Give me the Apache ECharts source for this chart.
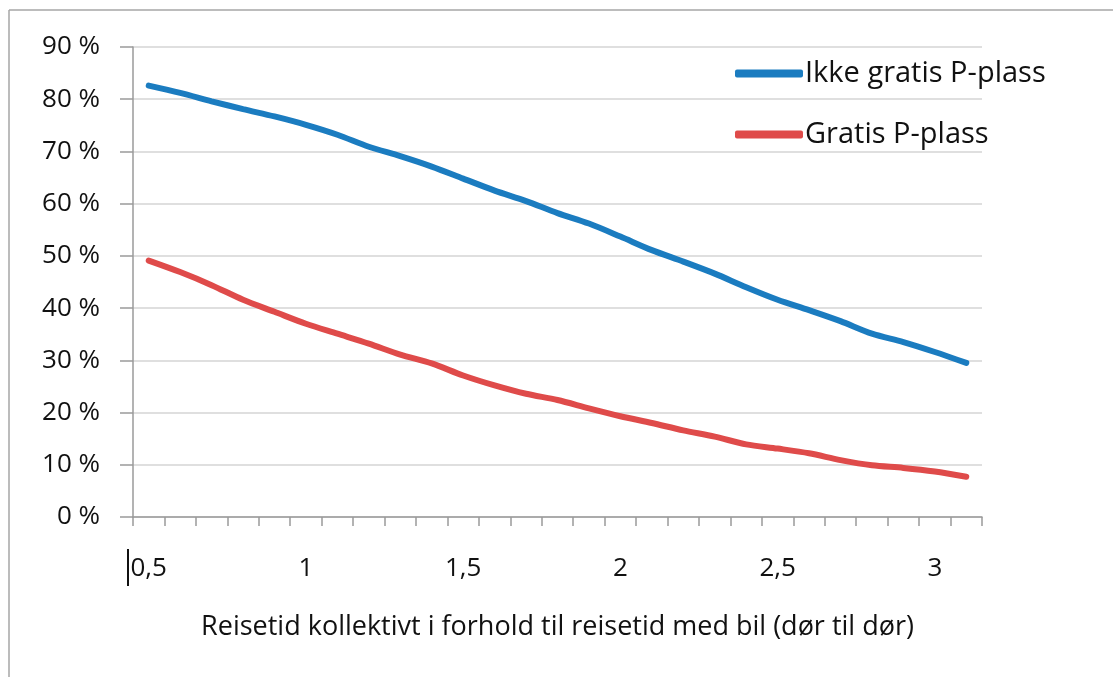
<!DOCTYPE html>
<html>
<head>
<meta charset="utf-8">
<script src="https://cdn.jsdelivr.net/npm/echarts@6/dist/echarts.min.js"></script>
<style>
  html, body { margin: 0; padding: 0; background: #fff; }
  #chart { width: 1113px; height: 677px; }
</style>
</head>
<body>
<div id="chart"></div>
<script>
// ratio categories 0,5 .. 3,1
var categories = ['0,5', '0,6', '0,7', '0,8', '0,9', '1', '1,1', '1,2', '1,3', '1,4',
    '1,5', '1,6', '1,7', '1,8', '1,9', '2', '2,1', '2,2', '2,3', '2,4',
    '2,5', '2,6', '2,7', '2,8', '2,9', '3', '3,1'];
var ikkeGratis = [82.6, 81.2, 79.6, 78.1, 76.7, 75.1, 73.2, 70.9, 69.1, 67.1,
    64.8, 62.5, 60.5, 58.2, 56.2, 53.7, 51.1, 48.9, 46.6, 44.0,
    41.6, 39.6, 37.5, 35.1, 33.5, 31.6, 29.5];
var gratis = [49.1, 46.9, 44.4, 41.6, 39.3, 37.0, 35.1, 33.2, 31.1, 29.4,
    27.1, 25.2, 23.6, 22.4, 20.8, 19.3, 18.0, 16.6, 15.4, 13.9,
    13.1, 12.2, 10.9, 9.9, 9.4, 8.7, 7.7];
var seriesNames = ['Ikke gratis P-plass', 'Gratis P-plass'];
var xName = 'Reisetid kollektivt i forhold til reisetid med bil (dør til dør)';

var font = '"Open Sans", sans-serif';
var txt = '#111';

var myChart = echarts.init(document.getElementById('chart'));
var option = {
    animation: false,
    textStyle: { fontFamily: font },
    grid: { left: 133, right: 131, top: 47, bottom: 160 },
    legend: {
        orient: 'vertical',
        left: 735,
        top: 59,
        padding: 0,
        icon: 'roundRect',
        itemWidth: 68,
        itemHeight: 8,
        itemGap: 32,
        textStyle: { fontSize: 29, color: txt, fontFamily: font, padding: [0, 0, 0, -3] },
        data: seriesNames
    },
    xAxis: {
        type: 'category',
        data: categories,
        boundaryGap: true,
        name: xName,
        nameLocation: 'middle',
        nameGap: 97,
        nameTextStyle: { fontSize: 27, color: txt, fontFamily: font },
        axisLine: { lineStyle: { color: '#9a9a9a', width: 1.5 } },
        axisTick: { show: true, interval: 0, length: 9, lineStyle: { color: '#9a9a9a', width: 1.5 } },
        axisLabel: { interval: 4, margin: 39, fontSize: 26, color: txt, fontFamily: font },
        splitLine: { show: false }
    },
    yAxis: {
        type: 'value',
        min: 0,
        max: 90,
        interval: 10,
        axisLine: { show: true, lineStyle: { color: '#9a9a9a', width: 1.5 } },
        axisTick: { show: true, inside: false, length: 13, lineStyle: { color: '#9a9a9a', width: 1.5 } },
        axisLabel: { margin: 33, fontSize: 26, color: txt, fontFamily: font, formatter: '{value} %' },
        splitLine: { lineStyle: { color: '#d4d4d4', width: 1.5 } }
    },
    series: [
        {
            name: seriesNames[0],
            type: 'line',
            data: ikkeGratis,
            smooth: 0.3,
            showSymbol: false,
            symbol: 'none',
            color: '#1b7cc0',
            lineStyle: { width: 6, color: '#1b7cc0', cap: 'round' }
        },
        {
            name: seriesNames[1],
            type: 'line',
            data: gratis,
            smooth: 0.3,
            showSymbol: false,
            symbol: 'none',
            color: '#df4b4a',
            lineStyle: { width: 6, color: '#df4b4a', cap: 'round' }
        }
    ],
    graphic: [
        // outer frame (top and left edges)
        { type: 'line', shape: { x1: 9, y1: 10, x2: 1113, y2: 10 }, style: { stroke: '#a6a6a6', lineWidth: 1.5 } },
        { type: 'line', shape: { x1: 9, y1: 10, x2: 9, y2: 677 }, style: { stroke: '#a6a6a6', lineWidth: 1.5 } },
        // text cursor mark before first label
        { type: 'line', shape: { x1: 128, y1: 549, x2: 128, y2: 586 }, style: { stroke: '#111', lineWidth: 2 } }
    ]
};
myChart.setOption(option);
</script>
</body>
</html>
